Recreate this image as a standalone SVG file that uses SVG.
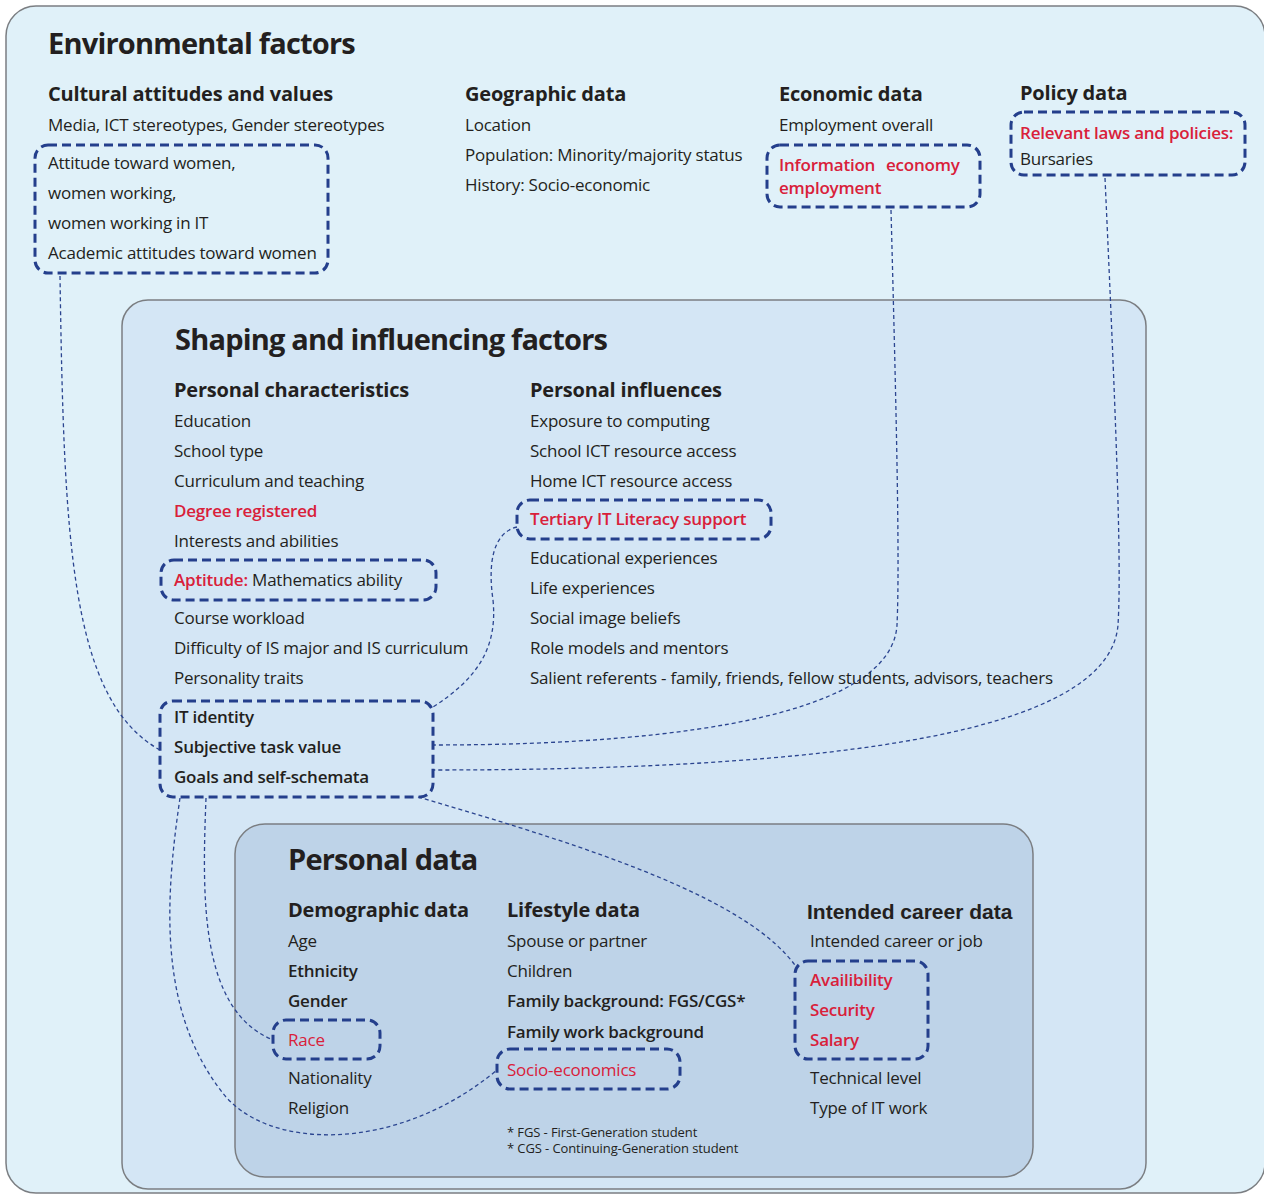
<svg xmlns="http://www.w3.org/2000/svg" width="1264" height="1195" viewBox="0 0 1264 1195">
  <defs>
    <style>
      text { font-family: "Open Sans", "Noto Sans", "DejaVu Sans", sans-serif; fill: #231f20; }
      .h1 { font-size: 29px; font-weight: 700; letter-spacing: -0.8px; }
      .h2 { font-size: 20px; font-weight: 700; letter-spacing: -0.2px; }
      .t { font-size: 17px; font-weight: 400; letter-spacing: -0.22px; }
      .sb { font-weight: 600; }
      .red { fill: #d9203a; }
      .fn { font-size: 13px; letter-spacing: -0.1px; }
      .arial { font-family: "Liberation Sans", Arial, sans-serif; font-size: 21px; letter-spacing: 0; }
      .panel { stroke: #7b7e82; stroke-width: 1.5; }
      .hl { fill: none; stroke: #243f8c; stroke-width: 3; stroke-dasharray: 9 5; }
      .link { fill: none; stroke: #2b4590; stroke-width: 1.3; stroke-dasharray: 4 3; }
    </style>
  </defs>

  <rect width="1264" height="1195" fill="#ffffff"/>

  <!-- nested panels -->
  <g id="panel-environmental">
    <rect class="panel" x="6" y="6" width="1259" height="1187" rx="30" fill="#e0f1f9"/>
  </g>
  <g id="panel-shaping">
    <rect class="panel" x="122" y="300" width="1024" height="889" rx="26" fill="#d4e6f5"/>
  </g>
  <g id="panel-personal">
    <rect class="panel" x="235" y="824" width="798" height="353" rx="30" fill="#bed3e8"/>
  </g>

  <!-- connectors -->
  <g id="connectors">
    <path class="link" d="M60,276 C64,540 70,700 160,750"/>
    <path class="link" d="M517,527 C492,533 488,565 493,600 C498,650 475,680 433,707"/>
    <path class="link" d="M891,210 C896,400 900,560 897,625 C892,710 700,745 433,745"/>
    <path class="link" d="M1105,178 C1115,400 1122,560 1118,625 C1110,720 900,770 433,770"/>
    <path class="link" d="M180,798 C165,900 158,1010 222,1092 C265,1150 395,1155 497,1070"/>
    <path class="link" d="M206,798 C202,900 200,1010 273,1040"/>
    <path class="link" d="M418,797 C600,850 750,900 797,968"/>
  </g>

  <!-- Environmental factors -->
  <g id="environmental">
    <text class="h1" x="48" y="54">Environmental factors</text>
  </g>

  <g id="cultural">
    <text class="h2" x="48" y="101">Cultural attitudes and values</text>
    <text class="t" x="48" y="131">Media, ICT stereotypes, Gender stereotypes</text>
  </g>
  <g id="cultural-attitudes">
    <rect class="hl" x="35" y="145" width="293" height="128" rx="13"/>
    <text class="t" x="48" y="169">Attitude toward women,</text>
    <text class="t" x="48" y="199">women working,</text>
    <text class="t" x="48" y="229">women working in IT</text>
    <text class="t" x="48" y="259">Academic attitudes toward women</text>
  </g>

  <g id="geographic">
    <text class="h2" x="465" y="101">Geographic data</text>
    <text class="t" x="465" y="131">Location</text>
    <text class="t" x="465" y="161">Population: Minority/majority status</text>
    <text class="t" x="465" y="191">History: Socio-economic</text>
  </g>

  <g id="economic">
    <text class="h2" x="779" y="101">Economic data</text>
    <text class="t" x="779" y="131">Employment overall</text>
  </g>
  <g id="information-economy">
    <rect class="hl" x="767" y="145" width="213" height="62" rx="13"/>
    <text class="t sb red" x="779" y="171">Information <tspan x="886">economy</tspan></text>
    <text class="t sb red" x="779" y="194">employment</text>
  </g>

  <g id="policy">
    <text class="h2" x="1020" y="100">Policy data</text>
  </g>
  <g id="laws-policies">
    <rect class="hl" x="1011" y="112" width="234" height="63" rx="13"/>
    <text class="t sb red" x="1020" y="139">Relevant laws and policies:</text>
    <text class="t" x="1020" y="165">Bursaries</text>
  </g>

  <!-- Shaping and influencing factors -->
  <g id="shaping">
    <text class="h1" x="175" y="350">Shaping and influencing factors</text>
  </g>

  <g id="personal-characteristics">
    <text class="h2" x="174" y="397">Personal characteristics</text>
    <text class="t" x="174" y="427">Education</text>
    <text class="t" x="174" y="457">School type</text>
    <text class="t" x="174" y="487">Curriculum and teaching</text>
    <text class="t sb red" x="174" y="517">Degree registered</text>
    <text class="t" x="174" y="547">Interests and abilities</text>
    <text class="t" x="174" y="624">Course workload</text>
    <text class="t" x="174" y="654">Difficulty of IS major and IS curriculum</text>
    <text class="t" x="174" y="684">Personality traits</text>
  </g>
  <g id="aptitude">
    <rect class="hl" x="161" y="560" width="275" height="40" rx="13"/>
    <text class="t" x="174" y="586"><tspan class="sb red">Aptitude:</tspan> Mathematics ability</text>
  </g>
  <g id="it-identity">
    <rect class="hl" x="160" y="701" width="273" height="96" rx="13"/>
    <text class="t sb" x="174" y="723">IT identity</text>
    <text class="t sb" x="174" y="753">Subjective task value</text>
    <text class="t sb" x="174" y="783">Goals and self-schemata</text>
  </g>

  <g id="personal-influences">
    <text class="h2" x="530" y="397">Personal influences</text>
    <text class="t" x="530" y="427">Exposure to computing</text>
    <text class="t" x="530" y="457">School ICT resource access</text>
    <text class="t" x="530" y="487">Home ICT resource access</text>
    <text class="t" x="530" y="564">Educational experiences</text>
    <text class="t" x="530" y="594">Life experiences</text>
    <text class="t" x="530" y="624">Social image beliefs</text>
    <text class="t" x="530" y="654">Role models and mentors</text>
    <text class="t" x="530" y="684">Salient referents - family, friends, fellow students, advisors, teachers</text>
  </g>
  <g id="tertiary-support">
    <rect class="hl" x="517" y="500" width="254" height="39" rx="13"/>
    <text class="t sb red" x="530" y="525">Tertiary IT Literacy support</text>
  </g>

  <!-- Personal data -->
  <g id="personal">
    <text class="h1" x="288" y="870">Personal data</text>
  </g>

  <g id="demographic">
    <text class="h2" x="288" y="917">Demographic data</text>
    <text class="t" x="288" y="947">Age</text>
    <text class="t sb" x="288" y="977">Ethnicity</text>
    <text class="t sb" x="288" y="1007">Gender</text>
    <text class="t" x="288" y="1084">Nationality</text>
    <text class="t" x="288" y="1114">Religion</text>
  </g>
  <g id="race">
    <rect class="hl" x="273" y="1020" width="107" height="39" rx="13"/>
    <text class="t red" x="288" y="1046">Race</text>
  </g>

  <g id="lifestyle">
    <text class="h2" x="507" y="917">Lifestyle data</text>
    <text class="t" x="507" y="947">Spouse or partner</text>
    <text class="t" x="507" y="977">Children</text>
    <text class="t sb" x="507" y="1007">Family background: FGS/CGS*</text>
    <text class="t sb" x="507" y="1038">Family work background</text>
    <text class="fn" x="507" y="1137">* FGS - First-Generation student</text>
    <text class="fn" x="507" y="1153">* CGS - Continuing-Generation student</text>
  </g>
  <g id="socio-economics">
    <rect class="hl" x="497" y="1049" width="183" height="40" rx="13"/>
    <text class="t red" x="507" y="1076">Socio-economics</text>
  </g>

  <g id="intended-career">
    <text class="h2 arial" x="807" y="919">Intended career data</text>
    <text class="t" x="810" y="947">Intended career or job</text>
    <text class="t" x="810" y="1084">Technical level</text>
    <text class="t" x="810" y="1114">Type of IT work</text>
  </g>
  <g id="career-conditions">
    <rect class="hl" x="795" y="961" width="133" height="98" rx="13"/>
    <text class="t sb red" x="810" y="986">Availibility</text>
    <text class="t sb red" x="810" y="1016">Security</text>
    <text class="t sb red" x="810" y="1046">Salary</text>
  </g>
</svg>
